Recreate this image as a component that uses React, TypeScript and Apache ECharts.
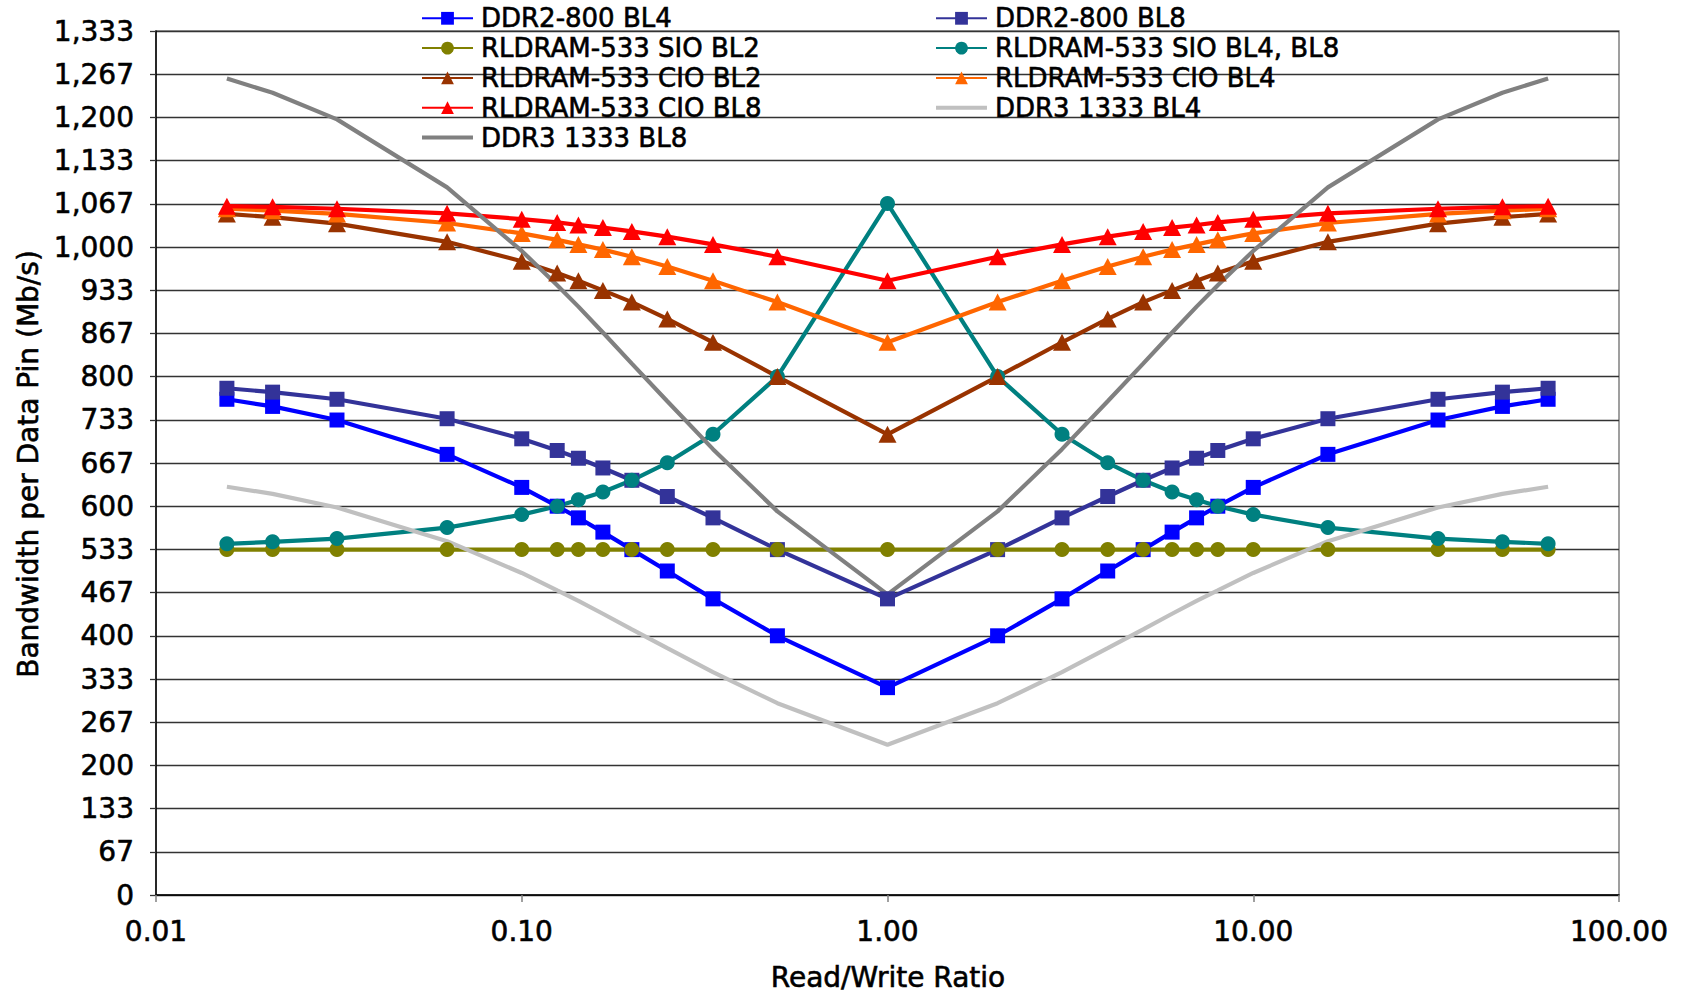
import React, { useEffect, useRef } from "react";
import * as echarts from "echarts";

// Read/Write ratio (x) — 1/64 ... 64
const X_RATIOS = [
  0.015625, 0.020833, 0.03125, 0.0625, 0.1, 0.125, 0.142857, 0.166667, 0.2, 0.25, 0.333333, 0.5,
  1, 2, 3, 4, 5, 6, 7, 8, 10, 16, 32, 48, 64,
];

const DDR2_800_BL4 = [765, 754, 733, 680, 629, 600, 582, 560, 533, 500, 457, 400, 320, 400, 457, 500, 533, 560, 582, 600, 629, 680, 733, 754, 765];
const DDR2_800_BL8 = [782, 776, 765, 735, 704, 686, 674, 659, 640, 615, 582, 533, 457, 533, 582, 615, 640, 659, 674, 686, 704, 735, 765, 776, 782];
const RLD_SIO_BL2 = [533, 533, 533, 533, 533, 533, 533, 533, 533, 533, 533, 533, 533, 533, 533, 533, 533, 533, 533, 533, 533, 533, 533, 533, 533];
const RLD_SIO_BL48 = [542, 545, 550, 567, 587, 600, 610, 622, 640, 667, 711, 800, 1067, 800, 711, 667, 640, 622, 610, 600, 587, 567, 550, 545, 542];
const RLD_CIO_BL2 = [1051, 1046, 1036, 1008, 978, 960, 948, 933, 915, 889, 853, 800, 711, 800, 853, 889, 915, 933, 948, 960, 978, 1008, 1036, 1046, 1051];
const RLD_CIO_BL4 = [1059, 1056, 1051, 1037, 1021, 1011, 1004, 996, 985, 970, 948, 915, 853, 915, 948, 970, 985, 996, 1004, 1011, 1021, 1037, 1051, 1056, 1059];
const RLD_CIO_BL8 = [1063, 1062, 1059, 1052, 1043, 1038, 1034, 1030, 1024, 1016, 1004, 985, 948, 985, 1004, 1016, 1024, 1030, 1034, 1038, 1043, 1052, 1059, 1062, 1063];
const DDR3_BL4 = [630, 619, 598, 546, 497, 470, 454, 434, 410, 381, 344, 296, 232, 296, 344, 381, 410, 434, 454, 470, 497, 546, 598, 619, 630];
const DDR3_BL8 = [1260, 1238, 1197, 1092, 994, 941, 908, 868, 820, 762, 688, 592, 464, 592, 688, 762, 820, 868, 908, 941, 994, 1092, 1197, 1238, 1260];

const SERIES_NAMES = [
  "DDR2-800 BL4",
  "DDR2-800 BL8",
  "RLDRAM-533 SIO BL2",
  "RLDRAM-533 SIO BL4, BL8",
  "RLDRAM-533 CIO BL2",
  "RLDRAM-533 CIO BL4",
  "RLDRAM-533 CIO BL8",
  "DDR3 1333 BL4",
  "DDR3 1333 BL8",
];
const SERIES_VALUES = [
  DDR2_800_BL4, DDR2_800_BL8, RLD_SIO_BL2, RLD_SIO_BL48, RLD_CIO_BL2,
  RLD_CIO_BL4, RLD_CIO_BL8, DDR3_BL4, DDR3_BL8,
];
const SERIES_COLORS = ["#0000FF", "#333399", "#808000", "#008080", "#993300", "#FF6600", "#FF0000", "#C0C0C0", "#808080"];
const SERIES_SYMBOLS = ["rect", "rect", "circle", "circle", "triangle", "triangle", "triangle", "none", "none"];

const X_TITLE = "Read/Write Ratio";
const Y_TITLE = "Bandwidth per Data Pin (Mb/s)";

const FONT = "DejaVu Sans";
const LINE_ONLY_ICON = "path://M0,0L51,0L51,0.01Z M0,6L51,6L51,10L0,10Z M0,16L51,16L51,16.01Z";

export default function App() {
  const ref = useRef<HTMLDivElement>(null);

  useEffect(() => {
    if (!ref.current) return;
    const chart = echarts.init(ref.current, null, { renderer: "svg" });

    const series = SERIES_NAMES.map((name, i) => {
      const sym = SERIES_SYMBOLS[i];
      const size = sym === "triangle" ? [18, 17] : 15;
      return {
        name,
        type: "line",
        data: X_RATIOS.map((x, k) => [x, SERIES_VALUES[i][k]]),
        symbol: sym,
        showSymbol: sym !== "none",
        symbolSize: size,
        lineStyle: { color: SERIES_COLORS[i], width: 4.2 },
        itemStyle: { color: SERIES_COLORS[i] },
        emphasis: { disabled: true },
      };
    });

    const legendItem = (i: number) =>
      SERIES_SYMBOLS[i] === "none" ? { name: SERIES_NAMES[i], icon: LINE_ONLY_ICON } : { name: SERIES_NAMES[i] };

    const legendCommon = {
      orient: "vertical",
      top: 5,
      padding: 0,
      itemWidth: 51,
      itemHeight: 16,
      itemGap: 3.2,
      textStyle: {
        fontFamily: FONT,
        fontSize: 26,
        color: "#000",
        lineHeight: 26,
        padding: [0, 0, 0, 3],
        textBorderColor: "#000",
        textBorderWidth: 0.6,
      },
      selectedMode: false,
    };

    const labelStyle = {
      fontFamily: FONT,
      fontSize: 28,
      color: "#000",
      textBorderColor: "#000",
      textBorderWidth: 0.6,
    };

    chart.setOption({
      animation: false,
      backgroundColor: "#fff",
      grid: {
        left: 156,
        right: 64,
        top: 31,
        bottom: 98,
        show: true,
        borderColor: "#808080",
        borderWidth: 1.5,
        backgroundColor: "transparent",
      },
      legend: [
        { ...legendCommon, left: 421, data: [0, 2, 4, 6, 8].map(legendItem) },
        { ...legendCommon, left: 935, data: [1, 3, 5, 7].map(legendItem) },
      ],
      xAxis: {
        type: "log",
        logBase: 10,
        min: 0.01,
        max: 100,
        axisLine: { show: true, lineStyle: { color: "#000", width: 1.5 } },
        axisTick: { show: true, length: 7, lineStyle: { color: "#808080", width: 1.5 } },
        minorTick: { show: false },
        splitLine: { show: false },
        axisLabel: {
          ...labelStyle,
          margin: 22,
          formatter: (v: number) => Number(v).toFixed(2),
        },
      },
      yAxis: {
        type: "value",
        min: 0,
        max: 4000 / 3,
        interval: 200 / 3,
        axisLine: { show: true, lineStyle: { color: "#000", width: 1.5 } },
        axisTick: { show: true, length: 6, lineStyle: { color: "#333", width: 1.3 } },
        splitLine: { show: true, lineStyle: { color: "#333", width: 1.3 } },
        axisLabel: {
          ...labelStyle,
          margin: 22,
          formatter: (v: number) => Math.round(v).toLocaleString("en-US"),
        },
      },
      graphic: [
        {
          type: "text",
          x: 888,
          y: 977,
          style: {
            text: X_TITLE,
            fontFamily: FONT,
            fontSize: 28,
            fill: "#000",
            stroke: "#000",
            lineWidth: 0.6,
            textAlign: "center",
            textVerticalAlign: "middle",
            align: "center",
            verticalAlign: "middle",
          },
        },
        {
          type: "text",
          x: 28,
          y: 464,
          rotation: Math.PI / 2,
          style: {
            text: Y_TITLE,
            fontFamily: FONT,
            fontSize: 28,
            fill: "#000",
            stroke: "#000",
            lineWidth: 0.6,
            textAlign: "center",
            textVerticalAlign: "middle",
            align: "center",
            verticalAlign: "middle",
          },
        },
      ],
      series,
    });

    return () => chart.dispose();
  }, []);

  return (
    <div
      ref={ref}
      style={{ position: "absolute", left: 0, top: 0, width: 1683, height: 993 }}
    />
  );
}
